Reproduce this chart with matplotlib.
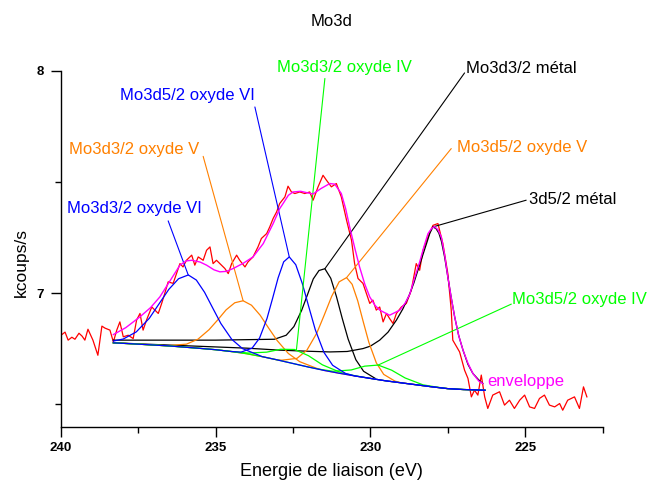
import matplotlib
matplotlib.use("Agg")
import matplotlib.pyplot as plt
from matplotlib.ticker import MultipleLocator

plt.rcParams['font.family'] = ['Liberation Sans', 'DejaVu Sans']

# ---------------------------------------------------------------------------
# Data (binding energy in eV, kcoups/s)
# ---------------------------------------------------------------------------
red_x = [239.99, 239.86, 239.76, 239.64, 239.54, 239.41, 239.31, 239.22, 239.12, 238.96,
         238.80, 238.67, 238.57, 238.41, 238.30, 238.19, 238.09, 237.98, 237.82, 237.66,
         237.55, 237.44, 237.34, 237.23, 237.06, 236.96, 236.85, 236.74, 236.64, 236.53,
         236.37, 236.26, 236.15, 236.05, 235.94, 235.77, 235.67, 235.56, 235.40, 235.29,
         235.18, 235.08, 234.97, 234.81, 234.70, 234.59, 234.48, 234.32, 234.22, 234.05,
         233.95, 233.79, 233.63, 233.52, 233.35, 233.25, 233.14, 233.03, 232.93, 232.76,
         232.66, 232.55, 232.44, 232.28, 232.12, 231.96, 231.85, 231.69, 231.53, 231.42,
         231.26, 231.10, 230.94, 230.77, 230.61, 230.51, 230.40, 230.24, 230.13, 230.02,
         229.92, 229.81, 229.70, 229.59, 229.48, 229.38, 229.27, 229.16, 229.00, 228.84,
         228.68, 228.52, 228.41, 228.30, 228.14, 227.98, 227.82, 227.66, 227.50, 227.39,
         227.34, 227.12, 226.96, 226.85, 226.74, 226.64, 226.53, 226.42, 226.31, 226.21,
         226.05, 225.83, 225.67, 225.51, 225.35, 225.18, 225.02, 224.86, 224.70, 224.54,
         224.38, 224.22, 224.05, 223.89, 223.79, 223.63, 223.41, 223.25, 223.12, 223.01]
red_y = [6.811, 6.825, 6.789, 6.802, 6.793, 6.820, 6.807, 6.789, 6.838, 6.789,
         6.721, 6.852, 6.843, 6.834, 6.781, 6.834, 6.871, 6.804, 6.811, 6.796,
         6.879, 6.909, 6.834, 6.879, 6.938, 6.924, 6.909, 6.954, 6.999, 7.051,
         7.044, 7.088, 7.133, 7.118, 7.148, 7.171, 7.126, 7.163, 7.148, 7.193,
         7.208, 7.133, 7.148, 7.126, 7.111, 7.088, 7.133, 7.171, 7.148, 7.118,
         7.141, 7.163, 7.208, 7.246, 7.268, 7.298, 7.336, 7.365, 7.403, 7.433,
         7.481, 7.455, 7.448, 7.455, 7.448, 7.455, 7.418, 7.478, 7.530, 7.508,
         7.478, 7.493, 7.433, 7.328, 7.238, 7.133, 7.066, 7.044, 6.999, 6.954,
         6.969, 6.924, 6.938, 6.871, 6.909, 6.886, 6.864, 6.909, 6.938, 6.954,
         7.013, 7.133, 7.103, 7.193, 7.253, 7.305, 7.313, 7.223, 7.088, 6.924,
         6.789, 6.736, 6.654, 6.617, 6.534, 6.564, 6.542, 6.632, 6.534, 6.482,
         6.542, 6.557, 6.497, 6.519, 6.482, 6.519, 6.542, 6.489, 6.482, 6.527,
         6.542, 6.497, 6.489, 6.504, 6.474, 6.519, 6.534, 6.482, 6.579, 6.534]

# common background under the oxide components
base_x = [238.3, 237.5, 236.5, 235.5, 235.0, 234.5, 234.0, 233.5, 233.0, 232.5, 232.0,
          231.5, 231.0, 230.5, 230.0, 229.5, 229.0, 228.5, 228.0, 227.5, 227.0, 226.3]
base_y = [6.777, 6.771, 6.763, 6.752, 6.746, 6.738, 6.728, 6.715, 6.700, 6.684, 6.668,
          6.653, 6.640, 6.628, 6.617, 6.606, 6.597, 6.588, 6.579, 6.571, 6.567, 6.564]

# peak parts of the components (outside these ranges they sit on the background)
vi32_x = [238.3, 237.98, 237.56, 237.14, 236.825, 236.51, 236.195, 235.88, 235.62, 235.355,
          235.09, 234.83, 234.48, 234.13, 233.6]
vi32_y = [6.785, 6.794, 6.826, 6.887, 6.952, 7.017, 7.065, 7.082, 7.059, 7.004,
          6.933, 6.864, 6.793, 6.751, 6.721]

v32_x = [236.49, 235.94, 235.57, 235.21, 234.93, 234.66, 234.38, 234.11, 233.84, 233.56,
         233.29, 233.01, 232.65, 232.28, 231.73]
v32_y = [6.765, 6.771, 6.793, 6.836, 6.880, 6.925, 6.957, 6.966, 6.946, 6.901,
         6.844, 6.787, 6.729, 6.692, 6.662]

vi52_x = [234.18, 233.82, 233.58, 233.34, 233.16, 232.98, 232.80, 232.62, 232.41, 232.20,
          231.99, 231.78, 231.50, 231.22, 230.80]
vi52_y = [6.735, 6.753, 6.798, 6.886, 6.976, 7.069, 7.141, 7.163, 7.128, 7.044,
          6.939, 6.836, 6.734, 6.676, 6.639]

iv32_x = [234.4, 233.95, 233.35, 232.9, 232.45, 232.0, 231.55, 230.95, 230.5]
iv32_y = [6.737, 6.731, 6.735, 6.748, 6.747, 6.719, 6.678, 6.643, 6.629]

v52_x = [232.85, 232.37, 232.05, 231.73, 231.49, 231.25, 231.01, 230.77, 230.59, 230.41,
         230.23, 230.05, 229.81, 229.57, 229.21]
v52_y = [6.699, 6.707, 6.744, 6.821, 6.902, 6.986, 7.051, 7.070, 7.040, 6.966,
         6.871, 6.779, 6.687, 6.635, 6.605]

iv52_x = [231.635, 231.2, 230.62, 230.185, 229.75, 229.315, 228.88, 228.3, 227.865]
iv52_y = [6.658, 6.649, 6.655, 6.672, 6.677, 6.654, 6.619, 6.588, 6.578]

met32_x = [238.3, 235.0, 233.1, 232.72, 232.47, 232.22, 232.03, 231.845, 231.66, 231.47,
           231.28, 231.095, 230.91, 230.72, 230.47, 230.22, 229.845]
met32_y = [6.789, 6.789, 6.793, 6.811, 6.850, 6.923, 6.994, 7.064, 7.102, 7.110,
           7.067, 6.984, 6.887, 6.794, 6.701, 6.649, 6.617]

met52_x = [238.3, 236.0, 234.0, 232.93, 232.0, 231.31, 230.75, 230.24, 230.0, 229.7,
           229.43, 229.16, 228.95, 228.75, 228.6, 228.45, 228.3, 228.19, 228.08, 227.98,
           227.88, 227.79, 227.71, 227.6, 227.5, 227.39, 227.28, 227.15, 227.01, 226.85,
           226.69, 226.5, 226.37]
met52_y = [6.777, 6.764, 6.753, 6.744, 6.739, 6.736, 6.738, 6.751, 6.762, 6.789,
           6.825, 6.879, 6.930, 6.990, 7.045, 7.110, 7.175, 7.222, 7.270, 7.298,
           7.290, 7.270, 7.235, 7.160, 7.073, 6.980, 6.894, 6.810, 6.744, 6.680,
           6.639, 6.610, 6.594]

env_x = [238.3, 237.9, 237.44, 237.1, 236.8, 236.45, 236.15, 235.95, 235.77, 235.5,
         235.29, 235.05, 234.86, 234.65, 234.43, 234.1, 233.79, 233.46, 233.14, 232.93,
         232.82, 232.65, 232.5, 232.25, 232.06, 231.85, 231.6, 231.31, 231.15, 230.94,
         230.8, 230.67, 230.5, 230.35, 230.18, 230.02, 229.85, 229.7, 229.38, 229.05,
         228.88, 228.73, 228.57, 228.41, 228.27, 228.14, 228.03, 227.93, 227.82, 227.71,
         227.6, 227.5, 227.39, 227.28, 227.15, 227.01, 226.85, 226.69, 226.5, 226.37]
env_y = [6.814, 6.845, 6.894, 6.935, 6.983, 7.06, 7.126, 7.145, 7.148, 7.14,
         7.126, 7.105, 7.096, 7.098, 7.111, 7.135, 7.163, 7.223, 7.313, 7.38,
         7.403, 7.44, 7.455, 7.458, 7.452, 7.446, 7.47, 7.493, 7.49, 7.448,
         7.38, 7.298, 7.2, 7.118, 7.04, 6.983, 6.945, 6.924, 6.901, 6.924,
         6.955, 6.995, 7.07, 7.14, 7.21, 7.268, 7.29, 7.3, 7.285, 7.253,
         7.17, 7.073, 6.98, 6.894, 6.81, 6.744, 6.685, 6.639, 6.605, 6.594]

BLUE, ORANGE, GREEN, BLACK = "#0000ff", "#ff8000", "#00ff00", "#000000"

# label, colour, peak point, leader end, text anchor (left, middle)
labels = [
    ("Mo3d3/2 oxyde VI", BLUE,   (235.88, 7.081), (236.53, 7.325), (239.80, 7.382)),
    ("Mo3d3/2 oxyde V",  ORANGE, (234.11, 6.966), (235.40, 7.615), (239.73, 7.647)),
    ("Mo3d5/2 oxyde VI", BLUE,   (232.62, 7.163), (233.73, 7.837), (238.09, 7.889)),
    ("Mo3d3/2 oxyde IV", GREEN,  (232.39, 6.744), (231.47, 7.965), (233.00, 8.015)),
    ("Mo3d3/2 métal",    BLACK,  (231.47, 7.110), (226.96, 7.990), (226.90, 8.011)),
    ("Mo3d5/2 oxyde V",  ORANGE, (230.77, 7.070), (227.39, 7.650), (227.22, 7.656)),
    ("3d5/2 métal",      BLACK,  (227.98, 7.298), (224.97, 7.418), (224.89, 7.422)),
    ("Mo3d5/2 oxyde IV", GREEN,  (229.75, 6.677), (225.45, 6.951), (225.42, 6.973)),
]


def on_background(px, py):
    """Extend a peak segment with the background points on either side."""
    left = [(x, y) for x, y in zip(base_x, base_y) if x > px[0]]
    right = [(x, y) for x, y in zip(base_x, base_y) if x < px[-1]]
    xs = [p[0] for p in left] + list(px) + [p[0] for p in right]
    ys = [p[1] for p in left] + list(py) + [p[1] for p in right]
    return xs, ys


fig = plt.figure(figsize=(6.5, 4.83), dpi=100)
ax = fig.add_axes([0.0934, 0.1166, 0.8338, 0.737])

ax.plot(red_x, red_y, color="#ff0000", lw=0.9, zorder=2)

# drawing order: metal, then orange, green, blue on top (baseline reads blue)
components = [
    (met32_x, met32_y, BLACK, True),
    (met52_x, met52_y, BLACK, True),
    (v32_x, v32_y, ORANGE, False),
    (v52_x, v52_y, ORANGE, False),
    (iv32_x, iv32_y, GREEN, False),
    (iv52_x, iv52_y, GREEN, False),
    (vi32_x, vi32_y, BLUE, False),
    (vi52_x, vi52_y, BLUE, False),
]
for cx, cy, col, own in components:
    if own:
        xs, ys = cx, cy
    else:
        xs, ys = on_background(cx, cy)
    ax.plot(xs, ys, color=col, lw=0.9, zorder=3)

ax.plot(env_x, env_y, color="#ff00ff", lw=1.0, zorder=4)

for text, col, peak, end, pos in labels:
    ax.annotate("", xy=peak, xytext=end, annotation_clip=False,
                arrowprops=dict(arrowstyle="-", color=col, lw=0.8,
                                shrinkA=0, shrinkB=0))
    ax.text(pos[0], pos[1], text, color=col, fontsize=12,
            ha="left", va="center", clip_on=False)

ax.text(226.22, 6.602, "enveloppe", color="#ff00ff", fontsize=12,
        ha="left", va="center")

ax.set_xlim(240, 222.5)
ax.set_ylim(6.4, 8.0)
ax.xaxis.set_major_locator(MultipleLocator(5))
ax.xaxis.set_minor_locator(MultipleLocator(2.5))
ax.yaxis.set_major_locator(MultipleLocator(1))
ax.yaxis.set_minor_locator(MultipleLocator(0.5))
ax.tick_params(which="major", length=7, width=1.0, direction="out")
ax.tick_params(which="minor", length=4, width=1.0, direction="out")
ax.tick_params(axis="x", pad=4)
ax.tick_params(axis="y", pad=5)
for lbl in ax.get_xticklabels() + ax.get_yticklabels():
    lbl.set_fontweight("bold")
    lbl.set_fontsize(9.5)

for side in ("top", "right"):
    ax.spines[side].set_visible(False)
for side in ("left", "bottom"):
    ax.spines[side].set_linewidth(1.0)

ax.set_xlabel("Energie de liaison (eV)", fontsize=13)
ax.set_ylabel("kcoups/s", fontsize=12.5)
ax.xaxis.set_label_coords(0.5, -0.125)
ax.yaxis.set_label_coords(-0.072, 0.46)
ax.xaxis.label.set_va("center")
ax.yaxis.label.set_va("center")

fig.text(0.510, 0.955, "Mo3d", fontsize=12, ha="center", va="center")

fig.savefig("out.png", dpi=100)
